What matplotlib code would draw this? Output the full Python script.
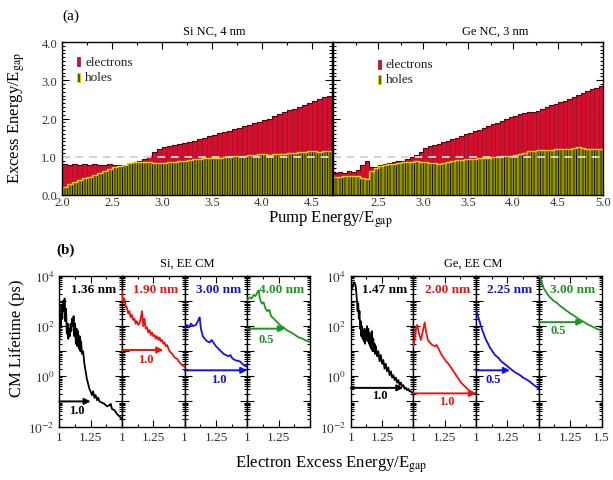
import numpy as np
import matplotlib
matplotlib.use("Agg")
import matplotlib.pyplot as plt
from matplotlib.patches import Rectangle
from matplotlib.ticker import MultipleLocator, FixedLocator, NullFormatter, FixedFormatter, LogLocator

plt.rcParams['font.family'] = ['Liberation Serif', 'DejaVu Serif']
plt.rcParams['mathtext.fontset'] = 'stix'

# ---------------- data: panel (a) ----------------
bar_step = 0.05
si_start = 2.0
si_electrons = [0.80, 0.78, 0.80, 0.79, 0.81, 0.78, 0.80, 0.79, 0.78, 0.80,
                0.79, 0.78, 0.79, 0.80, 0.82, 0.88, 0.95, 1.03, 1.12, 1.20,
                1.25, 1.27, 1.30, 1.33, 1.36, 1.39, 1.42, 1.46, 1.50, 1.54,
                1.58, 1.61, 1.65, 1.68, 1.72, 1.76, 1.80, 1.84, 1.88, 1.91,
                1.95, 2.00, 2.06, 2.12, 2.18, 2.22, 2.26, 2.30, 2.35, 2.41,
                2.46, 2.50, 2.55, 2.60]
si_holes = [0.22, 0.28, 0.33, 0.38, 0.44, 0.48, 0.53, 0.58, 0.63, 0.68,
            0.72, 0.76, 0.79, 0.83, 0.86, 0.87, 0.86, 0.85, 0.84, 0.83,
            0.84, 0.85, 0.87, 0.89, 0.90, 0.92, 0.94, 0.95, 0.96, 0.97,
            0.97, 0.98, 0.99, 1.00, 1.01, 1.02, 1.03, 1.04, 1.05, 1.06,
            1.06, 1.05, 1.06, 1.07, 1.08, 1.09, 1.11, 1.12, 1.13, 1.14,
            1.14, 1.13, 1.14, 1.15]
ge_start = 2.0
ge_electrons = [0.58, 0.60, 0.57, 0.62, 0.60, 0.66, 0.78, 0.88, 0.72, 0.74,
                0.79, 0.81, 0.83, 0.85, 0.88, 0.90, 0.94, 0.99, 1.05, 1.12,
                1.22, 1.27, 1.30, 1.34, 1.38, 1.42, 1.46, 1.50, 1.55, 1.59,
                1.63, 1.67, 1.71, 1.76, 1.80, 1.85, 1.89, 1.94, 1.98, 2.03,
                2.07, 2.11, 2.14, 2.16, 2.17, 2.20, 2.24, 2.29, 2.34, 2.38,
                2.42, 2.47, 2.52, 2.57, 2.62, 2.67, 2.72, 2.76, 2.80, 2.84]
ge_holes = [0.47, 0.48, 0.50, 0.49, 0.50, 0.49, 0.44, 0.42, 0.62, 0.70,
            0.75, 0.78, 0.80, 0.82, 0.84, 0.85, 0.86, 0.87, 0.88, 0.87,
            0.86, 0.84, 0.83, 0.82, 0.83, 0.86, 0.89, 0.91, 0.92, 0.93,
            0.94, 0.95, 0.96, 0.97, 0.98, 0.99, 1.00, 1.01, 1.02, 1.03,
            1.04, 1.06, 1.10, 1.14, 1.16, 1.17, 1.18, 1.18, 1.18, 1.19,
            1.19, 1.20, 1.21, 1.23, 1.25, 1.24, 1.21, 1.20, 1.19, 1.19]

# ---------------- data: panel (b) (log10 of lifetime in ps) ----------------
si136_E = [1.000, 1.006, 1.012, 1.018, 1.024, 1.030, 1.036, 1.042, 1.048, 1.054,
           1.060, 1.066, 1.072, 1.078, 1.084, 1.090, 1.096, 1.102, 1.108, 1.114,
           1.120, 1.126, 1.132, 1.138, 1.144, 1.150, 1.156, 1.162, 1.168, 1.174,
           1.180, 1.190, 1.200, 1.210, 1.220, 1.230, 1.240, 1.250, 1.260, 1.270,
           1.280, 1.290, 1.300, 1.310, 1.320, 1.340, 1.360, 1.380, 1.400, 1.410,
           1.420, 1.440, 1.460, 1.480, 1.500]
si136_L = [1.5, 2.5, 2.0, 2.8, 2.3, 3.0, 2.6, 3.1, 2.2, 2.7,
           1.7, 2.1, 1.5, 1.9, 1.6, 2.1, 1.8, 2.3, 2.0, 2.4,
           1.6, 2.1, 1.3, 1.9, 1.2, 1.8, 1.1, 1.6, 1.0, 1.4,
           0.9, 1.0, 0.5, 0.2, -0.1, -0.3, -0.5, -0.6, -0.75, -0.6,
           -0.85, -0.75, -0.95, -0.85, -1.0, -1.05, -1.1, -1.2, -1.15, -1.1,
           -1.3, -1.35, -1.5, -1.6, -1.7]
si190_E = [1.00, 1.01, 1.02, 1.03, 1.04, 1.05, 1.06, 1.07, 1.08, 1.09,
           1.10, 1.11, 1.12, 1.13, 1.14, 1.15, 1.16, 1.17, 1.18, 1.19,
           1.20, 1.21, 1.22, 1.23, 1.24, 1.25, 1.26, 1.27, 1.28, 1.29,
           1.30, 1.31, 1.32, 1.33, 1.34, 1.35, 1.36, 1.38, 1.40, 1.42,
           1.44, 1.46, 1.48, 1.50]
si190_L = [3.35, 3.0, 3.1, 2.8, 2.75, 2.5, 2.6, 2.35, 2.45, 2.25,
           2.3, 2.1, 2.2, 2.05, 2.1, 2.3, 2.6, 2.0, 2.3, 1.9,
           1.95, 1.75, 1.85, 1.65, 1.75, 1.6, 1.65, 1.5, 1.6, 1.45,
           1.55, 1.4, 1.45, 1.3, 1.35, 1.2, 1.25, 1.0, 0.9, 0.75,
           0.7, 0.55, 0.45, 0.38]
si300_E = [1.000, 1.020, 1.035, 1.050, 1.070, 1.090, 1.110, 1.120, 1.130, 1.145,
           1.160, 1.180, 1.200, 1.215, 1.230, 1.250, 1.270, 1.290, 1.310, 1.330,
           1.350, 1.365, 1.380, 1.400, 1.420, 1.440, 1.460, 1.480, 1.500]
si300_L = [1.95, 2.05, 1.95, 2.1, 2.0, 2.05, 2.25, 2.35, 1.9, 1.6,
           1.5, 1.4, 1.35, 1.45, 1.35, 1.2, 1.1, 1.0, 0.9, 0.85,
           0.8, 0.85, 0.72, 0.65, 0.62, 0.6, 0.5, 0.42, 0.38]
si400_E = [1.000, 1.020, 1.035, 1.050, 1.065, 1.080, 1.090, 1.100, 1.115, 1.130,
           1.145, 1.160, 1.175, 1.190, 1.210, 1.230, 1.250, 1.270, 1.290, 1.310,
           1.330, 1.350, 1.380, 1.410, 1.440, 1.470, 1.500]
si400_L = [3.05, 3.15, 3.1, 3.25, 3.2, 3.35, 3.42, 3.1, 2.9, 2.95,
           2.7, 2.6, 2.65, 2.4, 2.3, 2.2, 2.1, 2.0, 1.95, 1.85,
           1.8, 1.75, 1.65, 1.55, 1.5, 1.42, 1.37]

ge147_E = [1.000, 1.010, 1.020, 1.030, 1.040, 1.050, 1.055, 1.060, 1.065, 1.070,
           1.075, 1.080, 1.085, 1.090, 1.095, 1.100, 1.105, 1.110, 1.115, 1.120,
           1.125, 1.130, 1.135, 1.140, 1.145, 1.150, 1.155, 1.160, 1.165, 1.170,
           1.175, 1.180, 1.185, 1.190, 1.195, 1.200, 1.210, 1.220, 1.230, 1.240,
           1.250, 1.260, 1.270, 1.280, 1.290, 1.300, 1.310, 1.320, 1.330, 1.340,
           1.350, 1.360, 1.370, 1.380, 1.390, 1.400, 1.410, 1.420, 1.430, 1.440,
           1.450, 1.460, 1.470, 1.480, 1.490, 1.500]
ge147_L = [3.3, 3.5, 3.65, 3.75, 3.6, 3.0, 2.6, 2.9, 2.3, 2.6,
           1.9, 2.2, 1.6, 2.0, 1.5, 1.8, 1.4, 1.9, 1.3, 1.8,
           1.5, 2.0, 1.4, 1.9, 1.3, 1.75, 1.2, 1.6, 1.1, 1.8,
           1.0, 1.5, 1.0, 1.3, 0.9, 1.2, 0.8, 1.0, 0.6, 0.85,
           0.5, 0.65, 0.3, 0.5, 0.2, 0.35, 0.05, 0.2, -0.05, 0.05,
           -0.15, -0.05, -0.25, -0.15, -0.35, -0.25, -0.4, -0.35, -0.5, -0.45,
           -0.55, -0.5, -0.6, -0.6, -0.65, -0.68]
ge200_E = [1.000, 1.010, 1.020, 1.030, 1.045, 1.060, 1.075, 1.090, 1.100, 1.115,
           1.130, 1.150, 1.170, 1.185, 1.200, 1.220, 1.240, 1.260, 1.280, 1.300,
           1.320, 1.340, 1.360, 1.380, 1.400, 1.420, 1.440, 1.460, 1.480, 1.500]
ge200_L = [1.2, 1.5, 1.9, 2.05, 1.7, 1.45, 1.8, 2.15, 1.8, 1.45,
           1.35, 1.25, 1.2, 1.25, 1.1, 0.9, 0.75, 0.6, 0.5, 0.35,
           0.2, 0.05, -0.1, -0.25, -0.35, -0.45, -0.55, -0.62, -0.66, -0.68]
ge225_E = [1.000, 1.015, 1.030, 1.045, 1.060, 1.075, 1.090, 1.110, 1.130, 1.150,
           1.175, 1.200, 1.225, 1.250, 1.275, 1.300, 1.325, 1.350, 1.375, 1.400,
           1.425, 1.450, 1.475, 1.500]
ge225_L = [2.65, 2.4, 2.15, 1.9, 1.7, 1.5, 1.35, 1.15, 1.0, 0.85,
           0.75, 0.6, 0.5, 0.4, 0.3, 0.2, 0.12, 0.05, -0.05, -0.12,
           -0.2, -0.3, -0.4, -0.48]
ge300_E = [1.00, 1.02, 1.04, 1.06, 1.08, 1.10, 1.12, 1.14, 1.16, 1.18,
           1.20, 1.22, 1.24, 1.26, 1.28, 1.30, 1.32, 1.34, 1.36, 1.38,
           1.40, 1.42, 1.44, 1.46, 1.48, 1.50]
ge300_L = [4.15, 3.8, 3.5, 3.35, 3.2, 3.1, 3.0, 2.95, 2.85, 2.77,
           2.7, 2.62, 2.55, 2.48, 2.42, 2.35, 2.28, 2.22, 2.16, 2.1,
           2.05, 2.0, 1.95, 1.9, 1.86, 1.82]

si_sizes = ["1.36 nm", "1.90 nm", "3.00 nm", "4.00 nm"]
ge_sizes = ["1.47 nm", "2.00 nm", "2.25 nm", "3.00 nm"]
si_curves = [(si136_E, si136_L), (si190_E, si190_L), (si300_E, si300_L), (si400_E, si400_L)]
ge_curves = [(ge147_E, ge147_L), (ge200_E, ge200_L), (ge225_E, ge225_L), (ge300_E, ge300_L)]
# arrows: (log10 y, end energy, label, label energy, label log10 y)
si_arrows = [(-1.0, 1.25, "1.0", 1.14, -1.35), (1.05, 1.33, "1.0", 1.19, 0.7),
             (0.24, 1.50, "1.0", 1.27, -0.1), (1.9, 1.30, "0.5", 1.15, 1.5)]
ge_arrows = [(-0.46, 1.42, "1.0", 1.23, -0.75), (-0.68, 1.50, "1.0", 1.27, -1.0),
             (0.24, 1.27, "0.5", 1.14, -0.1), (2.16, 1.355, "0.5", 1.155, 1.83)]
curve_colors = ['#000000', '#f01010', '#1010ee', '#1e961e']

# ---------------- figure ----------------
W, H = 613, 481
fig = plt.figure(figsize=(W / 100, H / 100), dpi=100)

def fr(x0, y0, x1, y1):
    return [x0 / W, 1 - y1 / H, (x1 - x0) / W, (y1 - y0) / H]

e_face, e_edge = '#d0102c', '#9a0020'
h_face, h_edge = '#5e5e00', '#d8d800'

def top_panel(rect, start, elec, holes, xlim, show_ylabels, legend_pos):
    ax = fig.add_axes(rect)
    x = start + bar_step * np.arange(len(elec))
    ax.bar(x, elec, width=bar_step, align='edge', color=e_face, edgecolor=e_edge, linewidth=0.4, zorder=2)
    ax.step(np.append(x, x[-1] + bar_step), np.append(elec, elec[-1]), where='post',
            color='#5a0010', lw=0.8, zorder=2.5)
    # holes: dark gap + olive bar with yellow edges
    ax.bar(x, holes, width=bar_step, align='edge', color='#1c1c00', linewidth=0, zorder=3)
    ax.bar(x + 0.12 * bar_step, holes, width=0.7 * bar_step, align='edge', color=h_face,
           edgecolor=h_edge, linewidth=0.4, zorder=3.2)
    ax.step(np.append(x, x[-1] + bar_step), np.append(holes, holes[-1]), where='post',
            color='#f0d000', lw=1.0, zorder=3.5)
    ax.axhline(1.0, color='#d4d4d4', ls=(0, (4, 3)), lw=1.4, zorder=4)
    ax.set_xlim(*xlim)
    ax.set_ylim(0, 4.0)
    ax.xaxis.set_major_locator(MultipleLocator(0.5))
    ax.xaxis.set_minor_locator(MultipleLocator(0.25))
    ax.yaxis.set_major_locator(MultipleLocator(1.0))
    ax.yaxis.set_minor_locator(MultipleLocator(0.1))
    ax.tick_params(which='both', direction='in', top=True, right=True, labelsize=9,
                   labelcolor='#333333', width=0.8)
    ax.tick_params(which='major', length=5)
    ax.tick_params(which='minor', length=2.5)
    ax.tick_params(axis='x', pad=1)
    ax.xaxis.set_major_formatter(plt.FuncFormatter(lambda v, p: "" if abs(v - 2.0) < 1e-6 and not show_ylabels else f"{v:.1f}"))
    if show_ylabels:
        ax.yaxis.set_major_formatter(plt.FuncFormatter(lambda v, p: f"{v:.1f}"))
    else:
        ax.set_yticklabels([])
    for s in ax.spines.values():
        s.set_linewidth(1.0)
        s.set_zorder(6)
    # legend
    lx, ly = legend_pos
    ax.add_patch(Rectangle((lx, ly), 0.012, 0.06, transform=ax.transAxes, facecolor=e_face,
                           edgecolor=e_edge, lw=0.5, zorder=6, clip_on=False))
    ax.text(lx + 0.03, ly + 0.03, "electrons", transform=ax.transAxes, fontsize=9.5,
            va='center', ha='left', color='#222222', zorder=6)
    ax.add_patch(Rectangle((lx, ly - 0.1), 0.012, 0.06, transform=ax.transAxes, facecolor=h_face,
                           edgecolor=h_edge, lw=0.7, zorder=6, clip_on=False))
    ax.text(lx + 0.03, ly - 0.07, "holes", transform=ax.transAxes, fontsize=9.5,
            va='center', ha='left', color='#222222', zorder=6)
    return ax

ax1 = top_panel(fr(62, 43, 332, 196), si_start, si_electrons, si_holes, (2.0, 4.7), True, (0.056, 0.84))
ax2 = top_panel(fr(333, 43, 603, 196), ge_start, ge_electrons, ge_holes, (2.0, 5.0), False, (0.165, 0.825))

fig.text(62 / W, 1 - 16 / H, "(a)", fontsize=11, ha='left', va='center')
fig.text(214 / W, 1 - 32 / H, "Si NC, 4 nm", fontsize=9, ha='center', va='center')
fig.text(495 / W, 1 - 32 / H, "Ge NC, 3 nm", fontsize=9, ha='center', va='center')
fig.text(17 / W, 1 - 118 / H, "Excess Energy/E$_{\\rm gap}$", fontsize=12, rotation=90,
         ha='center', va='center')
fig.text(330 / W, 1 - 220 / H, "Pump Energy/E$_{\\rm gap}$", fontsize=12, ha='center', va='center')

# ---------------- panel (b) ----------------
def bottom_group(lefts, curves, sizes, arrows, last_label_15):
    for i, (x0, (E, L), size, arr) in enumerate(zip(lefts, curves, sizes, arrows)):
        ax = fig.add_axes(fr(x0, 277, x0 + 62.7, 427.5))
        c = curve_colors[i]
        ax.plot(E, 10 ** np.array(L), color=c, lw=1.3, zorder=3)
        ax.set_yscale('log')
        ax.set_ylim(1e-2, 1e4)
        ax.set_xlim(1.0, 1.5)
        ax.yaxis.set_major_locator(LogLocator(base=10, numticks=10))
        ax.yaxis.set_minor_locator(LogLocator(base=10, subs=np.arange(2, 10), numticks=20))
        ax.yaxis.set_minor_formatter(NullFormatter())
        ax.xaxis.set_major_locator(FixedLocator([1.0, 1.25, 1.5]))
        ax.xaxis.set_minor_locator(FixedLocator([1.125, 1.375]))
        xl = ["1", "1.25", "1.5" if (last_label_15 and i == 3) else ""]
        ax.xaxis.set_major_formatter(FixedFormatter(xl))
        if i == 0:
            ax.yaxis.set_major_formatter(plt.FuncFormatter(
                lambda v, p: f"$10^{{{int(round(np.log10(v)))}}}$" if int(round(np.log10(v))) % 2 == 0 else ""))
        else:
            ax.yaxis.set_major_formatter(NullFormatter())
        ax.tick_params(which='both', direction='in', top=True, right=True, labelsize=9.5,
                       labelcolor='#333333', width=0.8)
        ax.tick_params(which='major', length=5)
        ax.tick_params(which='minor', length=2.5)
        for s in ax.spines.values():
            s.set_linewidth(1.0)
        ay, aend, lab, lx, lyl = arr
        ax.annotate("", xy=(aend, 10 ** ay), xytext=(1.0, 10 ** ay),
                    arrowprops=dict(arrowstyle='-|>', color=c, lw=1.4, mutation_scale=9,
                                    shrinkA=0, shrinkB=0), zorder=4)
        ax.text(lx, 10 ** lyl, lab, color=c, fontsize=9, fontweight='bold', ha='center', va='center')
        ax.text(1.27, 10 ** 3.47, size, color=c, fontsize=9.5, fontweight='bold', ha='center',
                va='center', zorder=5)

bottom_group([59.3, 121.9, 184.6, 247.3], si_curves, si_sizes, si_arrows, False)
bottom_group([350.7, 413.4, 476.1, 538.8], ge_curves, ge_sizes, ge_arrows, True)

fig.text(56 / W, 1 - 250 / H, "(b)", fontsize=11, fontweight='bold', ha='left', va='center')
fig.text(187 / W, 1 - 264 / H, "Si, EE CM", fontsize=9, ha='center', va='center')
fig.text(473 / W, 1 - 264 / H, "Ge, EE CM", fontsize=9, ha='center', va='center')
fig.text(17 / W, 1 - 338 / H, "CM Lifetime (ps)", fontsize=12, rotation=90, ha='center', va='center')
fig.text(331 / W, 1 - 464 / H, "Electron Excess Energy/E$_{\\rm gap}$", fontsize=12,
         ha='center', va='center')

fig.savefig("out.png", dpi=100)
